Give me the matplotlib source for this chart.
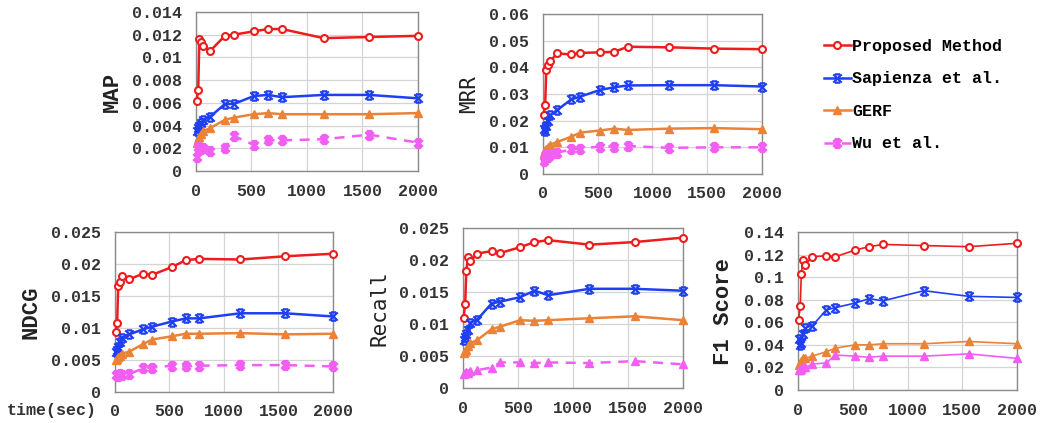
import matplotlib.pyplot as plt
import numpy as np
from matplotlib.path import Path

# time (sec) at which each measurement was taken
times = [5, 20, 30, 45, 65, 130, 260, 340, 520, 650, 775, 1150, 1560, 2000]

methods = ['Proposed Method', 'Sapienza et al.', 'GERF', 'Wu et al.']

map_vals = {
    'Proposed Method': [0.0062, 0.0071, 0.0116, 0.0114, 0.0110, 0.0106, 0.0119, 0.0120, 0.0123, 0.0125, 0.0125, 0.0117, 0.0118, 0.0119],
    'Sapienza et al.': [0.0035, 0.0038, 0.0040, 0.0042, 0.0045, 0.0048, 0.0059, 0.0059, 0.0066, 0.0067, 0.0065, 0.0067, 0.0067, 0.0064],
    'GERF':            [0.0025, 0.0028, 0.0030, 0.0033, 0.0035, 0.0038, 0.0045, 0.0047, 0.0050, 0.0051, 0.0050, 0.0050, 0.0050, 0.0051],
    'Wu et al.':       [0.0012, 0.0021, 0.0020, 0.0019, 0.0020, 0.0018, 0.0020, 0.0031, 0.0023, 0.0027, 0.0027, 0.0028, 0.0032, 0.0025],
}
mrr_vals = {
    'Proposed Method': [0.0220, 0.0258, 0.0390, 0.0410, 0.0423, 0.0452, 0.0448, 0.0454, 0.0456, 0.0458, 0.0477, 0.0475, 0.0470, 0.0468],
    'Sapienza et al.': [0.0170, 0.0160, 0.0180, 0.0200, 0.0220, 0.0240, 0.0280, 0.0290, 0.0315, 0.0325, 0.0332, 0.0333, 0.0333, 0.0328],
    'GERF':            [0.0080, 0.0090, 0.0095, 0.0100, 0.0110, 0.0120, 0.0140, 0.0155, 0.0163, 0.0170, 0.0165, 0.0170, 0.0172, 0.0168],
    'Wu et al.':       [0.0050, 0.0060, 0.0070, 0.0065, 0.0070, 0.0080, 0.0092, 0.0095, 0.0103, 0.0103, 0.0105, 0.0098, 0.0100, 0.0100],
}
ndcg_vals = {
    'Proposed Method': [0.0094, 0.0108, 0.0166, 0.0172, 0.0181, 0.0176, 0.0185, 0.0183, 0.0195, 0.0206, 0.0208, 0.0207, 0.0212, 0.0216],
    'Sapienza et al.': [0.0063, 0.0066, 0.0070, 0.0078, 0.0085, 0.0090, 0.0098, 0.0102, 0.0110, 0.0115, 0.0115, 0.0123, 0.0123, 0.0118],
    'GERF':            [0.0050, 0.0052, 0.0055, 0.0057, 0.0060, 0.0063, 0.0075, 0.0082, 0.0087, 0.0091, 0.0091, 0.0092, 0.0090, 0.0091],
    'Wu et al.':       [0.0026, 0.0027, 0.0025, 0.0028, 0.0026, 0.0028, 0.0037, 0.0038, 0.0041, 0.0040, 0.0041, 0.0042, 0.0042, 0.0040],
}
recall_vals = {
    'Proposed Method': [0.0110, 0.0131, 0.0183, 0.0204, 0.0198, 0.0210, 0.0214, 0.0211, 0.0220, 0.0228, 0.0231, 0.0224, 0.0228, 0.0235],
    'Sapienza et al.': [0.0075, 0.0080, 0.0085, 0.0090, 0.0102, 0.0107, 0.0132, 0.0135, 0.0142, 0.0152, 0.0145, 0.0155, 0.0155, 0.0152],
    'GERF':            [0.0055, 0.0058, 0.0060, 0.0065, 0.0070, 0.0075, 0.0092, 0.0096, 0.0106, 0.0105, 0.0106, 0.0109, 0.0112, 0.0106],
    'Wu et al.':       [0.0022, 0.0024, 0.0025, 0.0024, 0.0026, 0.0028, 0.0032, 0.0040, 0.0040, 0.0039, 0.0040, 0.0039, 0.0042, 0.0037],
}
f1_vals = {
    'Proposed Method': [0.062, 0.074, 0.103, 0.115, 0.111, 0.118, 0.119, 0.118, 0.124, 0.127, 0.129, 0.128, 0.127, 0.130],
    'Sapienza et al.': [0.045, 0.040, 0.042, 0.050, 0.055, 0.057, 0.071, 0.073, 0.077, 0.081, 0.079, 0.088, 0.083, 0.082],
    'GERF':            [0.022, 0.024, 0.026, 0.028, 0.028, 0.030, 0.034, 0.037, 0.040, 0.040, 0.041, 0.041, 0.043, 0.041],
    'Wu et al.':       [0.018, 0.018, 0.019, 0.020, 0.020, 0.023, 0.024, 0.031, 0.030, 0.029, 0.030, 0.030, 0.032, 0.028],
}

#%% styles
mono_bold = {'family': 'Liberation Mono', 'weight': 'bold', 'size': 12}

# x with bars top and bottom, like the spreadsheet star marker
star = Path([(-1, -1), (1, 1), (-1, 1), (1, -1), (-0.6, 1), (0.6, 1), (-0.6, -1), (0.6, -1)],
            [Path.MOVETO, Path.LINETO, Path.MOVETO, Path.LINETO,
             Path.MOVETO, Path.LINETO, Path.MOVETO, Path.LINETO])

colors = {'Proposed Method': '#ee1c1c', 'Sapienza et al.': '#1f3ff2',
          'GERF': '#ea8238', 'Wu et al.': '#f25ef2'}


def style_for(m, wu_marker='star', wu_dash=True, lw=1.8):
    c = colors[m]
    if m == 'Proposed Method':
        return dict(color=c, lw=lw, marker='o', ms=5, mfc='white', mec=c, mew=1.5)
    if m == 'Sapienza et al.':
        return dict(color=c, lw=lw, marker=star, ms=6, mec=c, mew=1.6)
    if m == 'GERF':
        return dict(color=c, lw=lw, marker='^', ms=6, mfc=c, mec=c)
    if wu_marker == 'star':
        mk = dict(marker=star, ms=5.5, mec=c, mew=2.6)
    else:
        mk = dict(marker='^', ms=6, mfc=c, mec=c)
    return dict(color=c, lw=lw, ls=(0, (4, 3)) if wu_dash else '-', **mk)


def draw(ax, vals, ymax, ystep, ylabel, yfont, wu_marker='star', wu_dash=True, lw=1.8):
    for m in methods:
        ax.plot(times, vals[m], label=m, clip_on=False, zorder=3,
                **style_for(m, wu_marker, wu_dash, lw))
    ax.set_xlim(0, 2000)
    ax.set_ylim(0, ymax)
    ax.set_xticks([0, 500, 1000, 1500, 2000])
    yt = np.arange(0, ymax + ystep / 2, ystep)
    ax.set_yticks(yt)
    ax.set_yticklabels([f'{v:g}' for v in np.round(yt, 4)])
    for lab in ax.get_xticklabels() + ax.get_yticklabels():
        lab.set_fontproperties(mono_bold)
        lab.set_color('#333333')
    ax.tick_params(axis='y', length=0, pad=10)
    ax.tick_params(axis='x', length=0, pad=9)
    ax.grid(True, color='#d4d4d4', lw=0.9)
    ax.set_axisbelow(True)
    for s in ax.spines.values():
        s.set_color('#8a8a8a')
        s.set_linewidth(1.0)
    ax.set_ylabel(ylabel, fontdict=yfont, color='#222222', labelpad=7)


label_bold = {'family': 'Liberation Mono', 'weight': 'bold', 'size': 16}
label_sans = {'family': 'DejaVu Sans Mono', 'size': 15}

fig = plt.figure(figsize=(10.47, 4.23), dpi=100)

ax_map = fig.add_axes([0.1872, 0.5957, 0.2120, 0.3759])
ax_mrr = fig.add_axes([0.5186, 0.5887, 0.2092, 0.3783])
ax_ndcg = fig.add_axes([0.1098, 0.0733, 0.2082, 0.3783])
ax_rec = fig.add_axes([0.4422, 0.0827, 0.2101, 0.3783])
ax_f1 = fig.add_axes([0.7622, 0.0780, 0.2092, 0.3735])

draw(ax_map, map_vals, 0.014, 0.002, 'MAP', label_bold)
draw(ax_mrr, mrr_vals, 0.06, 0.01, 'MRR', label_sans)
draw(ax_ndcg, ndcg_vals, 0.025, 0.005, 'NDCG', label_bold)
draw(ax_rec, recall_vals, 0.025, 0.005, 'Recall', label_sans, wu_marker='tri')
draw(ax_f1, f1_vals, 0.14, 0.02, 'F1 Score', label_bold, wu_marker='tri', wu_dash=False, lw=1.2)

handles, labels = ax_map.get_legend_handles_labels()
fig.legend(handles, labels, loc='upper left', bbox_to_anchor=(824 / 1047, 1 - 39 / 423),
           frameon=False, prop=mono_bold, handlelength=1.6, handletextpad=0.1,
           labelspacing=1.05, borderpad=0, borderaxespad=0)

fig.text(7 / 1047, 1 - 410 / 423, 'time(sec)', fontdict=mono_bold, va='center', color='#333333')

fig.savefig('out.png', dpi=100)
